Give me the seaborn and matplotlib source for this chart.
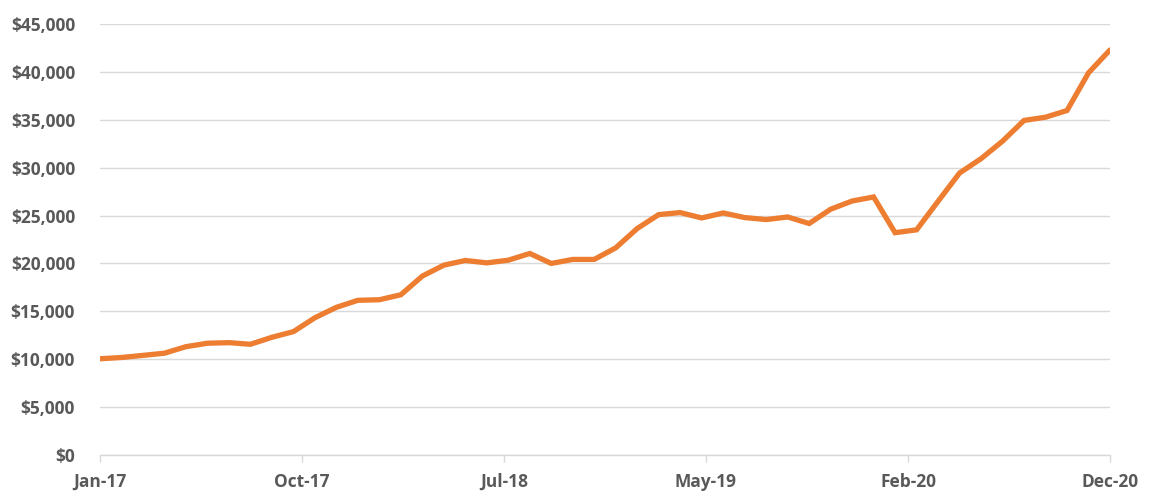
import matplotlib
matplotlib.use("Agg")
import matplotlib.pyplot as plt
import seaborn as sns
import pandas as pd
import numpy as np
from matplotlib.ticker import FuncFormatter

months = pd.date_range("2017-01-01", "2020-12-01", freq="MS").strftime("%b-%y").tolist()
values = [
    10050, 10180, 10400, 10630, 11310, 11670, 11730, 11560, 12290, 12880,
    14330, 15420, 16150, 16210, 16730, 18680, 19820, 20310, 20060, 20340,
    21040, 20000, 20420, 20420, 21630, 23650, 25100, 25310, 24750, 25270,
    24790, 24580, 24850, 24170, 25660, 26520, 26940, 23210, 23510, 26490,
    29440, 30940, 32770, 34930, 35270, 35970, 39900, 42290,
]
y_ticks = [0, 5000, 10000, 15000, 20000, 25000, 30000, 35000, 40000, 45000]

df = pd.DataFrame({"idx": np.arange(len(months)), "month": months, "value": values})

sns.set_theme(style="white")
plt.rcParams["font.family"] = ["Open Sans", "DejaVu Sans"]
plt.rcParams["font.weight"] = "bold"

fig = plt.figure(figsize=(11.5, 4.98), dpi=100)
ax = fig.add_axes([100 / 1150, 43 / 498, 1010 / 1150, 431 / 498])

sns.lineplot(data=df, x="idx", y="value", ax=ax, color="#ED7D31", linewidth=3.8,
             solid_joinstyle="miter")

n = len(months) - 1
tick_pos = [n * k / 5 for k in range(6)]
ax.set_xticks(tick_pos)
ax.set_xticklabels([months[int(np.floor(p + 1e-9))] for p in tick_pos])
ax.set_xlim(0, n)
ax.set_ylim(0, 45000)
ax.set_yticks(y_ticks)
ax.yaxis.set_major_formatter(FuncFormatter(lambda v, p: f"${v:,.0f}"))

ax.grid(axis="y", color="#D9D9D9", linewidth=1.0)
ax.set_axisbelow(True)
for s in ["top", "right", "left"]:
    ax.spines[s].set_visible(False)
ax.spines["bottom"].set_color("#D9D9D9")
ax.spines["bottom"].set_linewidth(1.0)

ax.tick_params(axis="y", length=0, pad=18, labelsize=12.5, labelcolor="#595959")
ax.tick_params(axis="x", length=5, width=1, color="#D9D9D9", pad=8,
               labelsize=12.5, labelcolor="#595959", bottom=True)
for lab in ax.get_xticklabels() + ax.get_yticklabels():
    lab.set_fontweight("bold")

ax.set_xlabel("")
ax.set_ylabel("")

fig.savefig("out.png", dpi=100, facecolor="white")
